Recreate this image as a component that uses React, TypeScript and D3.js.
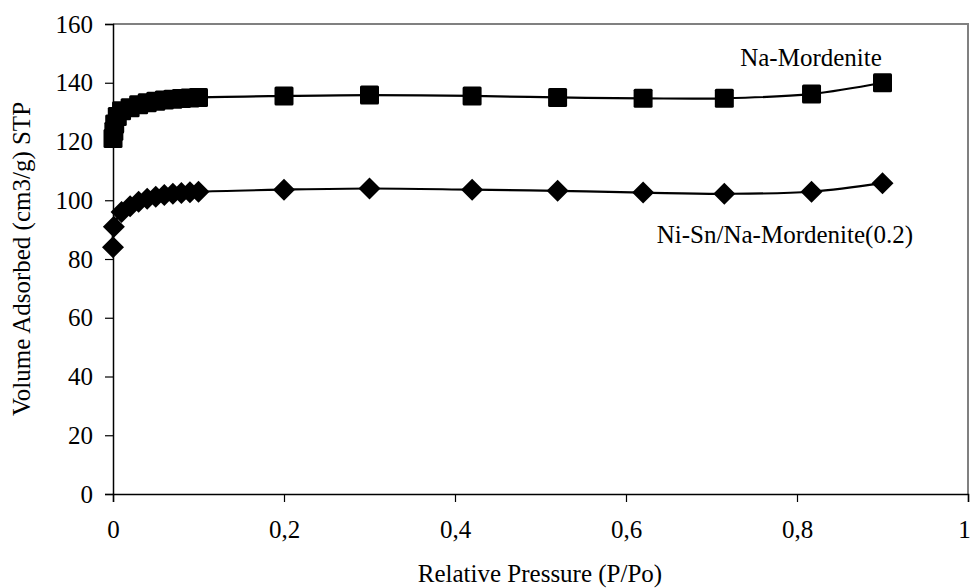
import React, { useRef, useEffect } from "react";
import * as d3 from "d3";

// Na-Mordenite (squares)
const naX = [0, 0.001, 0.002, 0.005, 0.01, 0.02, 0.03, 0.04, 0.05, 0.06, 0.07, 0.08, 0.09, 0.1, 0.2, 0.3, 0.42, 0.52, 0.62, 0.715, 0.817, 0.9];
const naY = [121, 123.5, 126, 128.5, 130.5, 131.5, 132.5, 133.2, 133.7, 134.1, 134.4, 134.6, 134.8, 135, 135.5, 135.8, 135.5, 135, 134.7, 134.7, 136.2, 140];

// Ni-Sn/Na-Mordenite(0.2) (diamonds)
const niX = [0, 0.001, 0.01, 0.02, 0.03, 0.04, 0.05, 0.06, 0.07, 0.08, 0.09, 0.1, 0.2, 0.3, 0.42, 0.52, 0.62, 0.715, 0.817, 0.9];
const niY = [84, 91, 96, 98, 99.5, 100.5, 101.2, 101.8, 102.2, 102.5, 102.7, 102.9, 103.6, 104, 103.6, 103.2, 102.6, 102.2, 102.9, 105.8];

const xTicks = [0, 0.2, 0.4, 0.6, 0.8, 1];
const yTicks = [0, 20, 40, 60, 80, 100, 120, 140, 160];

const seriesNames = ["Na-Mordenite", "Ni-Sn/Na-Mordenite(0.2)"];

export default function App() {
   const svgRef = useRef<SVGSVGElement>(null);

   useEffect(() => {
      document.body.style.margin = "0";
      const w = 972;
      const h = 588;
      const m = { left: 113, right: 968, top: 24, bottom: 494 };
      const font = "Liberation Serif, Times New Roman, serif";
      const fs = "25px";

      const svg = d3
         .select(svgRef.current)
         .attr("width", w)
         .attr("height", h)
         .style("font-family", font)
         .style("display", "block");
      svg.selectAll("*").remove();
      svg.append("rect").attr("width", w).attr("height", h).attr("fill", "#fff");

      const x = d3.scaleLinear().domain([0, 1]).range([m.left, m.right]);
      const y = d3.scaleLinear().domain([0, 160]).range([m.bottom, m.top]);

      // plot frame (grey top / right)
      svg.append("path")
         .attr("d", `M${m.left},${m.top}H${m.right}V${m.bottom}`)
         .attr("fill", "none")
         .attr("stroke", "#808080")
         .attr("stroke-width", 2);

      // axes
      const yAxis = d3.axisLeft(y).tickValues(yTicks).tickSize(8).tickPadding(12);
      const xAxis = d3
         .axisBottom(x)
         .tickValues(xTicks)
         .tickSize(8)
         .tickPadding(18)
         .tickFormat((d) => String(d).replace(".", ","));

      const gy = svg.append("g").attr("transform", `translate(${m.left},0)`).call(yAxis);
      const gx = svg.append("g").attr("transform", `translate(0,${m.bottom})`).call(xAxis);
      [gx, gy].forEach((g) => {
         g.attr("font-family", null).attr("font-size", null);
         g.select(".domain").attr("stroke", "#000").attr("stroke-width", 1.5);
         g.selectAll(".tick line").attr("stroke", "#000").attr("stroke-width", 1.2);
         g.selectAll("text").style("font-size", fs).attr("fill", "#000");
      });
      // keep the last x label inside the picture
      gx.selectAll<SVGTextElement, number>("text")
         .filter((d) => d === 1)
         .attr("dx", -4);

      // axis titles
      svg.append("text")
         .attr("x", 540)
         .attr("y", 582)
         .attr("text-anchor", "middle")
         .style("font-size", fs)
         .text("Relative Pressure (P/Po)");

      svg.append("text")
         .attr("transform", `translate(30,${(m.top + m.bottom) / 2}) rotate(-90)`)
         .attr("text-anchor", "middle")
         .style("font-size", fs)
         .text("Volume Adsorbed (cm3/g) STP");

      const line = d3
         .line<[number, number]>()
         .x((d) => x(d[0]))
         .y((d) => y(d[1]))
         .curve(d3.curveCatmullRom.alpha(0.5));

      const naData: [number, number][] = naX.map((v, i) => [v, naY[i]]);
      const niData: [number, number][] = niX.map((v, i) => [v, niY[i]]);

      [naData, niData].forEach((d) => {
         svg.append("path")
            .attr("d", line(d))
            .attr("fill", "none")
            .attr("stroke", "#000")
            .attr("stroke-width", 2.2);
      });

      // square markers
      const sq = 19;
      svg.append("g")
         .selectAll("rect")
         .data(naData)
         .join("rect")
         .attr("x", (d) => x(d[0]) - sq / 2)
         .attr("y", (d) => y(d[1]) - sq / 2)
         .attr("width", sq)
         .attr("height", sq)
         .attr("rx", 1.5)
         .attr("fill", "#000");

      // diamond markers
      const dm = 11;
      svg.append("g")
         .selectAll("path")
         .data(niData)
         .join("path")
         .attr("d", (d) => {
            const cx = x(d[0]);
            const cy = y(d[1]);
            return `M${cx},${cy - dm}L${cx + dm},${cy}L${cx},${cy + dm}L${cx - dm},${cy}Z`;
         })
         .attr("fill", "#000");

      // series labels
      svg.append("text")
         .attr("x", 811)
         .attr("y", 66)
         .attr("text-anchor", "middle")
         .style("font-size", fs)
         .text(seriesNames[0]);

      svg.append("text")
         .attr("x", 913)
         .attr("y", 243)
         .attr("text-anchor", "end")
         .style("font-size", fs)
         .text(seriesNames[1]);
   }, []);

   return (
      <div>
         <svg ref={svgRef}></svg>
      </div>
   );
}
